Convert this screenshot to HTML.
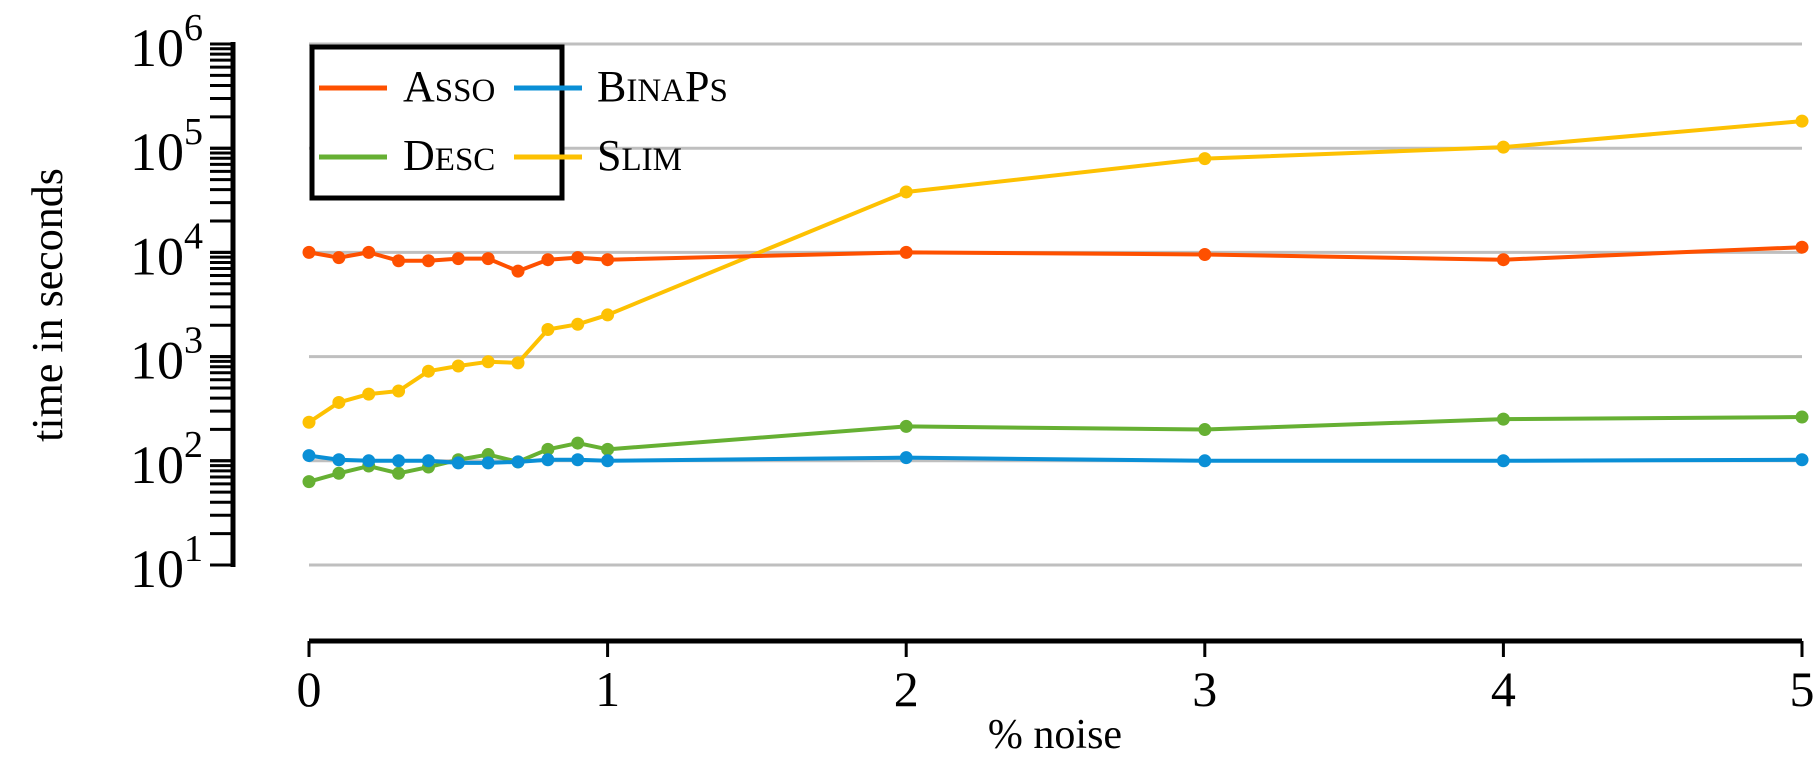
<!DOCTYPE html>
<html><head><meta charset="utf-8"><style>
html,body{margin:0;padding:0;background:#fff;}
svg{display:block;font-family:"Liberation Serif",serif;}
</style></head><body>
<svg id="chart" width="1819" height="764" viewBox="0 0 1819 764" xmlns="http://www.w3.org/2000/svg">
<g id="grid"></g>
<g id="yaxis"></g>
<g id="xaxis"></g>
<g id="series"></g>
<text x="0" y="0" transform="translate(62,305) rotate(-90)" text-anchor="middle" font-size="44">time in seconds</text>
<text x="1055" y="748" text-anchor="middle" font-size="42">% noise</text>
<g>
<rect x="312" y="47" width="250" height="151" fill="#fff" stroke="#000" stroke-width="5"/>
<g><line x1="319" y1="88" x2="387" y2="88" stroke="#fe5000" stroke-width="5"/><text x="403" y="101" font-size="44">A<tspan font-size="33">SSO</tspan></text></g>
<g><line x1="514" y1="88" x2="582" y2="88" stroke="#0a8fd6" stroke-width="5"/><text x="597" y="101" font-size="44">B<tspan font-size="33">INA</tspan>P<tspan font-size="33">S</tspan></text></g>
<g><line x1="319" y1="157" x2="387" y2="157" stroke="#66b033" stroke-width="5"/><text x="403" y="170" font-size="44">D<tspan font-size="33">ESC</tspan></text></g>
<g><line x1="514" y1="157" x2="582" y2="157" stroke="#fdc102" stroke-width="5"/><text x="597" y="170" font-size="44">S<tspan font-size="33">LIM</tspan></text></g>
</g>
</svg>
<script>
const noise = [0,0.1,0.2,0.3,0.4,0.5,0.6,0.7,0.8,0.9,1,2,3,4,5];
const assoLog = [4.0,3.95,4.0,3.92,3.92,3.94,3.94,3.82,3.93,3.95,3.93,4.0,3.98,3.93,4.05];
const binapsLog = [2.05,2.01,2.0,2.0,2.0,1.98,1.98,1.99,2.01,2.01,2.0,2.03,2.0,2.0,2.01];
const descLog = [1.8,1.88,1.95,1.88,1.94,2.01,2.06,1.99,2.11,2.17,2.11,2.33,2.3,2.4,2.42];
const slimLog = [2.37,2.56,2.64,2.67,2.86,2.91,2.95,2.94,3.26,3.31,3.40,4.58,4.9,5.01,5.26];
const xTicks = [0,1,2,3,4,5];
const yDecades = [1,2,3,4,5,6];

const NS="http://www.w3.org/2000/svg";
function xs(v){return 309+v*298.6;}
function ys(l){return 44+(6-l)*104.2;}
function mk(tag,attrs,parent){const e=document.createElementNS(NS,tag);for(const k in attrs)e.setAttribute(k,attrs[k]);parent.appendChild(e);return e;}
const grid=document.getElementById('grid'),ya=document.getElementById('yaxis'),xa=document.getElementById('xaxis'),sg=document.getElementById('series');
yDecades.forEach(d=>{
  const g=mk('line',{x1:309,x2:1802,y1:ys(d),y2:ys(d),stroke:'#bfbfbf','stroke-width':3},grid);
  
  
  const t=mk('text',{x:203,y:ys(d)+22,'text-anchor':'end','font-size':54},ya);
  t.textContent='10';
  
  
  const s=mk('tspan',{dy:-26,'font-size':38},t);s.textContent=String(d);
});
for(let d=1;d<6;d++){for(let m=1;m<=10;m++){
  const y=ys(d+Math.log10(m));
  const tk=mk('line',{x1:210,x2:233,y1:y,y2:y,stroke:'#000','stroke-width':3},ya);
  
  
}}
mk('line',{x1:233,x2:233,y1:ys(6)-2,y2:ys(1)+2,stroke:'#000','stroke-width':5},ya);
mk('line',{x1:309,x2:1802,y1:641,y2:641,stroke:'#000','stroke-width':5},xa);
xTicks.forEach(v=>{
  const tk=mk('line',{x1:xs(v),x2:xs(v),y1:641,y2:657,stroke:'#000','stroke-width':3},xa);
  
  
  const t=mk('text',{x:xs(v),y:706,'text-anchor':'middle','font-size':50},xa);
  t.textContent=String(v);
  
  
});
function draw(vals,color,name){
  const g=mk('g',{},sg);
  
  
  mk('polyline',{points:vals.map((l,i)=>xs(noise[i])+','+ys(l)).join(' '),fill:'none',stroke:color,'stroke-width':4,'stroke-linejoin':'round'},g);
  vals.forEach((l,i)=>{
    const c=mk('circle',{cx:xs(noise[i]),cy:ys(l),r:6.5,fill:color},g);
    
    
  });
}
draw(slimLog,'#fdc102','slim');
draw(assoLog,'#fe5000','asso');
draw(descLog,'#66b033','desc');
draw(binapsLog,'#0a8fd6','binaps');
</script>
</body></html>
